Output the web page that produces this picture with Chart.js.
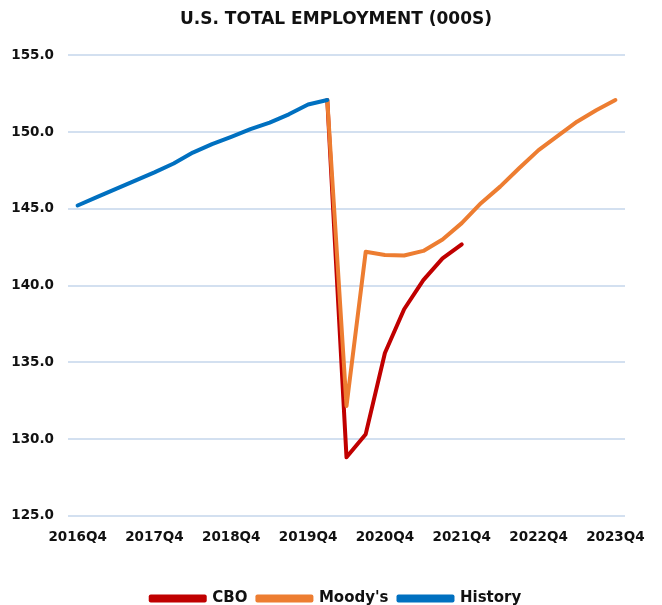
<!DOCTYPE html>
<html>
<head>
<meta charset="utf-8">
<script src="https://cdn.jsdelivr.net/npm/chart.js@4.4.0/dist/chart.umd.min.js"></script>
<style>
  html, body { margin: 0; padding: 0; background: #fff; }
  #wrap { width: 662px; height: 605px; position: relative; }
</style>
</head>
<body>
<div id="wrap"><canvas id="employmentChart"></canvas></div>
<script>
const quarters = [
    "2016Q4", "2017Q1", "2017Q2", "2017Q3", "2017Q4", "2018Q1", "2018Q2", "2018Q3",
    "2018Q4", "2019Q1", "2019Q2", "2019Q3", "2019Q4", "2020Q1", "2020Q2", "2020Q3",
    "2020Q4", "2021Q1", "2021Q2", "2021Q3", "2021Q4", "2022Q1", "2022Q2", "2022Q3",
    "2022Q4", "2023Q1", "2023Q2", "2023Q3", "2023Q4"
];

const historyValues = [
    145.22, 145.76, 146.30, 146.84, 147.38, 147.96, 148.67, 149.22,
    149.69, 150.19, 150.62, 151.16, 151.80, 152.09
];

const moodysValues = [
    null, null, null, null, null, null, null, null,
    null, null, null, null, null, 152.09, 132.16, 142.20,
    142.00, 141.96, 142.26, 143.00, 144.07, 145.37, 146.45, 147.66,
    148.83, 149.75, 150.68, 151.42, 152.09
];

const cboValues = [
    null, null, null, null, null, null, null, null,
    null, null, null, null, null, 152.09, 128.81, 130.32,
    135.61, 138.46, 140.36, 141.77, 142.69
];

const yTicks = { min: 125, max: 155, step: 5 };

document.addEventListener("DOMContentLoaded", function () {
    const fontFamily = "'DejaVu Sans', sans-serif";
    const ctx = document.getElementById("employmentChart").getContext("2d");

    function lineSet(label, data, color) {
        return {
            label,
            data,
            borderColor: color,
            backgroundColor: color,
            borderWidth: 4,
            borderCapStyle: "round",
            borderJoinStyle: "round",
            pointRadius: 0,
            pointHoverRadius: 0,
            tension: 0,
            fill: false
        };
    }

    new Chart(ctx, {
        type: "line",
        data: {
            labels: quarters,
            datasets: [
                lineSet("History", historyValues, "#0070C0"),
                lineSet("Moody's", moodysValues, "#ED7D31"),
                lineSet("CBO", cboValues, "#C00000")
            ]
        },
        options: {
            responsive: true,
            maintainAspectRatio: false,
            animation: false,
            layout: { padding: { left: 12, right: 2, top: 2, bottom: -11 } },
            plugins: {
                title: {
                    display: true,
                    text: "U.S. TOTAL EMPLOYMENT (000S)",
                    color: "#111",
                    font: { family: fontFamily, size: 17, weight: "bold" },
                    padding: { top: 7, bottom: 26 }
                },
                legend: {
                    position: "bottom",
                    reverse: true,
                    labels: {
                        boxWidth: 54,
                        boxHeight: 4,
                        padding: 10,
                        color: "#111",
                        font: { family: fontFamily, size: 15, weight: "bold" }
                    }
                },
                tooltip: { enabled: false }
            },
            scales: {
                x: {
                    offset: true,
                    grid: { display: false },
                    border: { display: false },
                    afterFit: function (axis) {
                        axis.height += 29;
                    },
                    ticks: {
                        autoSkip: false,
                        maxRotation: 0,
                        minRotation: 0,
                        padding: 6,
                        color: "#111",
                        font: { family: fontFamily, size: 13.5, weight: "bold" },
                        callback: function (value, index) {
                            return index % 4 === 0 ? quarters[index] : "";
                        }
                    }
                },
                y: {
                    min: yTicks.min,
                    max: yTicks.max,
                    border: { display: false },
                    grid: { color: "#D3E0F0", lineWidth: 2, drawTicks: false },
                    afterFit: function (axis) {
                        axis.width = 56;
                    },
                    ticks: {
                        stepSize: yTicks.step,
                        padding: 14,
                        color: "#111",
                        font: { family: fontFamily, size: 13.5, weight: "bold" },
                        callback: function (value) {
                            return value.toFixed(1);
                        }
                    }
                },
                // empty spacer on the right so the plot ends where the original does
                spacer: {
                    type: "linear",
                    position: "right",
                    grid: { display: false },
                    border: { display: false },
                    ticks: { callback: () => "" },
                    afterFit: function (axis) {
                        axis.width = 35;
                    }
                }
            }
        }
    });
});
</script>
</body>
</html>
